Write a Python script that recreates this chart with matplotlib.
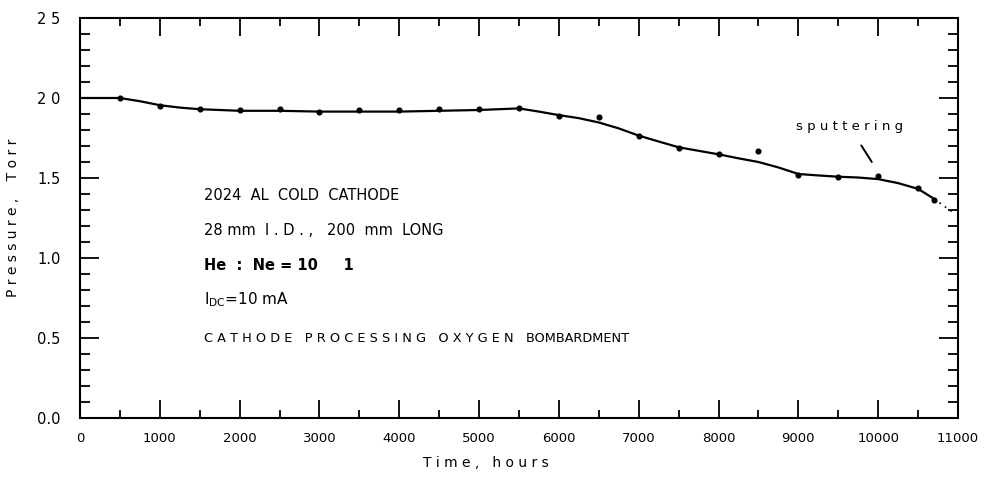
import matplotlib
matplotlib.use("Agg")
import matplotlib.pyplot as plt
from matplotlib.ticker import MultipleLocator

# measured points
time_pts = [500, 1000, 1500, 2000, 2500, 3000, 3500, 4000, 4500, 5000, 5500,
            6000, 6500, 7000, 7500, 8000, 8500, 9000, 9500, 10000, 10500, 10700]
pressure_pts = [2.00, 1.95, 1.93, 1.925, 1.93, 1.915, 1.925, 1.925, 1.93, 1.93, 1.94,
                1.89, 1.88, 1.76, 1.69, 1.65, 1.67, 1.52, 1.505, 1.515, 1.435, 1.36]

# hand-drawn trend curve
curve_t = [0, 500, 750, 1000, 1250, 1500, 2000, 2500, 3000, 3500, 4000, 4500, 5000, 5500,
           5750, 6000, 6250, 6500, 6750, 7000, 7250, 7500, 7750, 8000, 8250, 8500, 8750,
           9000, 9250, 9500, 9750, 10000, 10250, 10500, 10700]
curve_p = [2.00, 2.00, 1.98, 1.955, 1.94, 1.93, 1.92, 1.92, 1.915, 1.915, 1.915, 1.92, 1.925,
           1.935, 1.915, 1.893, 1.874, 1.847, 1.81, 1.765, 1.728, 1.692, 1.67, 1.648, 1.623,
           1.60, 1.566, 1.525, 1.516, 1.508, 1.503, 1.493, 1.468, 1.432, 1.37]

# dotted extension
ext_t = [10700, 10950]
ext_p = [1.37, 1.28]

x_ticks = [0, 1000, 2000, 3000, 4000, 5000, 6000, 7000, 8000, 9000, 10000, 11000]
x_labels = ["0", "1000", "2000", "3000", "4000", "5000", "6000", "7000", "8000",
            "9000", "10000", "11000"]
y_ticks = [0.0, 0.5, 1.0, 1.5, 2.0, 2.5]
y_labels = ["0.0", "0.5", "1.0", "1.5", "2 0", "2 5"]

fam = "DejaVu Sans"

fig = plt.figure(figsize=(9.84, 4.78), dpi=100)
ax = fig.add_axes([80/984, 1-418/478, (958-80)/984, (418-18)/478])

ax.plot(curve_t, curve_p, color="black", lw=1.6, solid_joinstyle="round")
ax.plot(ext_t, ext_p, color="black", lw=1.2, ls=(0, (1, 3)))
ax.plot(time_pts, pressure_pts, "o", color="black", ms=3.4)

ax.set_xlim(0, 11000)
ax.set_ylim(0, 2.5)

ax.set_xticks(x_ticks)
ax.set_xticklabels(x_labels, family=fam, fontsize=9.5)
ax.xaxis.set_minor_locator(MultipleLocator(500))
ax.set_yticks(y_ticks)
ax.set_yticklabels(y_labels, family=fam, fontsize=10.5)
ax.yaxis.set_minor_locator(MultipleLocator(0.1))

ax.tick_params(axis="x", which="major", direction="in", top=True, bottom=True,
               length=13, width=1.3, pad=10)
ax.tick_params(axis="x", which="minor", direction="in", top=True, bottom=True,
               length=6, width=1.3)
ax.tick_params(axis="y", which="major", direction="in", left=True, right=True,
               length=14, width=1.3, pad=14)
ax.tick_params(axis="y", which="minor", direction="in", left=True, right=True,
               length=7, width=1.3)

for s in ax.spines.values():
    s.set_linewidth(1.5)

ax.set_xlabel("T i m e ,   h o u r s", family=fam, fontsize=10)
ax.xaxis.set_label_coords(0.462, -0.095)
ax.set_ylabel("P r e s s u r e ,    T o r r", family=fam, fontsize=10, labelpad=12)

tx = 1550
ax.text(tx, 1.39, "2024  AL  COLD  CATHODE", family=fam, fontsize=10.5, va="center")
ax.text(tx, 1.17, "28 mm  I . D . ,   200  mm  LONG", family=fam, fontsize=10.5, va="center")
ax.text(tx, 0.955, "He  :  Ne = 10     1", family=fam, fontsize=10.5, va="center",
        fontweight="bold")
ax.text(tx, 0.74, r"I$_{\mathregular{DC}}$=10 mA", family=fam, fontsize=11, va="center")
ax.text(tx, 0.50, "C A T H O D E   P R O C E S S I N G   O X Y G E N   BOMBARDMENT",
        family=fam, fontsize=9.3, va="center")

ax.annotate("s p u t t e r i n g", xy=(9920, 1.60), xytext=(9640, 1.82),
            family=fam, fontsize=9.5, ha="center", va="center",
            arrowprops=dict(arrowstyle="-", color="black", lw=1.4,
                            shrinkA=8, shrinkB=0))

fig.savefig("out.png", dpi=100)
